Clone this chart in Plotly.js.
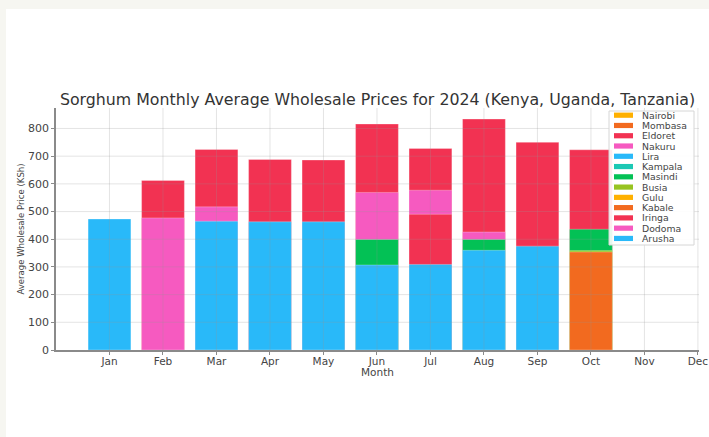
<!DOCTYPE html>
<html>
<head>
<meta charset="utf-8">
<script src="https://cdn.plot.ly/plotly-3.0.1.min.js"></script>
<style>
  html, body { margin: 0; padding: 0; background: #f6f6f1; width: 709px; height: 437px; overflow: hidden; }
  #chart { position: absolute; left: 6px; top: 9px; width: 703px; height: 428px; background: #ffffff; }
</style>
</head>
<body>
<div id="chart"></div>
<script>
// ---- data ----
const months = ['Jan','Feb','Mar','Apr','May','Jun','Jul','Aug','Sep','Oct','Nov','Dec'];
const markets = ['Nairobi','Mombasa','Eldoret','Nakuru','Lira','Kampala','Masindi','Busia','Gulu','Kabale','Iringa','Dodoma','Arusha'];
const marketColors = ['#FFB000','#F26A1F','#F23252','#F65AC0','#29B9F9','#1CC8B4','#03C155','#97C320','#FFB000','#F26A1F','#F23252','#F65AC0','#29B9F9'];

const nairobi = [null,null,null,null,null,null,null,null,null,null,null,null];
const mombasa = [null,null,null,null,null,null,null,null,null,null,null,null];
const eldoret = [null,612,724,688,686,816,728,834,750,723,null,null];
const nakuru  = [null,477,517,null,null,569,577,426,null,null,null,null];
const lira    = [null,null,null,null,null,null,null,null,null,null,null,null];
const kampala = [null,null,null,null,null,null,null,null,null,null,null,null];
const masindi = [null,null,null,null,null,399,null,399,null,436,null,null];
const busia   = [null,null,null,null,null,null,null,null,null,359,null,null];
const gulu    = [null,null,null,null,null,null,null,null,null,null,null,null];
const kabale  = [null,null,null,null,null,null,null,null,null,354,null,null];
const iringa  = [null,null,null,null,null,null,490,null,null,null,null,null];
const dodoma  = [null,null,null,null,null,null,null,null,null,null,null,null];
const arusha  = [473,null,465,463,463,307,309,360,375,null,null,null];
const seriesValues = [nairobi,mombasa,eldoret,nakuru,lira,kampala,masindi,busia,gulu,kabale,iringa,dodoma,arusha];
const yTicks = [0,100,200,300,400,500,600,700,800];

const titleText = 'Sorghum Monthly Average Wholesale Prices for 2024 (Kenya, Uganda, Tanzania)';
const xTitle = 'Month';
const yTitle = 'Average Wholesale Price (KSh)';

// ---- geometry helpers (layout only) ----
const W = 703, H = 428;
const M = {l: 50, r: 10, t: 99, b: 87};
const PW = W - M.l - M.r, PH = H - M.t - M.b;
const offX = 6, offY = 9;
function px(xAbs) { return (xAbs - offX - M.l) / PW; }
function py(yAbs) { return 1 - (yAbs - offY - M.t) / PH; }

const traces = markets.map((name, i) => ({
  type: 'bar',
  name: name,
  x: months,
  y: seriesValues[i],
  marker: {color: marketColors[i], line: {color: 'rgba(255,255,255,0.35)', width: 0.8}},
  showlegend: false,
  hoverinfo: 'name+y'
}));

const shapes = [];
const annotations = [];
const gridColor = 'rgba(150,150,150,0.25)';
months.forEach((m, i) => {
  shapes.push({type: 'line', xref: 'x', yref: 'paper', x0: i, x1: i, y0: 0, y1: 1,
    layer: 'above', line: {color: gridColor, width: 1}});
});
yTicks.forEach(v => {
  if (v === 0) return;
  shapes.push({type: 'line', xref: 'paper', yref: 'y', x0: 0, x1: 1, y0: v, y1: v,
    layer: 'above', line: {color: gridColor, width: 1}});
});

// x-axis title placed close under the tick labels, as in the reference
annotations.push({xref: 'paper', yref: 'paper', x: 0.5, y: py(372), xanchor: 'center', yanchor: 'middle',
  showarrow: false, text: xTitle, font: {family: 'DejaVu Sans, sans-serif', size: 10.5, color: '#444'}});

// custom legend (matplotlib-style compact legend)
const lgLeft = 609, lgRight = 694, lgTop = 111, lgBottom = 245;
shapes.push({type: 'rect', xref: 'paper', yref: 'paper',
  x0: px(lgLeft), x1: px(lgRight), y0: py(lgBottom), y1: py(lgTop),
  layer: 'above', fillcolor: 'rgba(255,255,255,0.9)', line: {color: '#d6d6d6', width: 1}});
const rowStart = 115.2, rowStep = 10.27;
markets.forEach((name, i) => {
  const yc = rowStart + i * rowStep;
  shapes.push({type: 'rect', xref: 'paper', yref: 'paper',
    x0: px(614), x1: px(633), y0: py(yc + 2.6), y1: py(yc - 2.6),
    layer: 'above', fillcolor: marketColors[i], line: {width: 0}});
  annotations.push({xref: 'paper', yref: 'paper', x: px(640), y: py(yc),
    xanchor: 'left', yanchor: 'middle', showarrow: false, text: name,
    font: {family: 'DejaVu Sans, sans-serif', size: 9.3, color: '#444'}});
});

const layout = {
  width: W, height: H,
  margin: M,
  paper_bgcolor: '#ffffff',
  plot_bgcolor: '#ffffff',
  barmode: 'overlay',
  bargap: 0.2,
  showlegend: false,
  title: {
    text: titleText,
    x: 0.5, xref: 'paper', xanchor: 'center',
    y: 1 - 90 / H, yref: 'container', yanchor: 'middle',
    font: {family: 'DejaVu Sans, sans-serif', size: 15.8, color: '#333'}
  },
  xaxis: {
    type: 'category',
    categoryorder: 'array', categoryarray: months,
    range: [-1, 11.02],
    showgrid: false, zeroline: false,
    showline: true, linecolor: '#8a8a8a', linewidth: 1.5,
    ticks: 'outside', ticklen: 3, tickcolor: '#8a8a8a',
    ticklabelstandoff: -2,
    tickfont: {family: 'DejaVu Sans, sans-serif', size: 10.5, color: '#444'}
  },
  yaxis: {
    range: [0, 874],
    tickvals: yTicks,
    showgrid: false, zeroline: false,
    showline: true, linecolor: '#8a8a8a', linewidth: 1.5,
    ticks: 'outside', ticklen: 3, tickcolor: '#8a8a8a',
    tickfont: {family: 'DejaVu Sans, sans-serif', size: 11, color: '#444'},
    title: {text: yTitle, standoff: 2, font: {family: 'Liberation Sans Narrow, DejaVu Sans Condensed, sans-serif', size: 9.5, color: '#444'}}
  },
  shapes: shapes,
  annotations: annotations
};

Plotly.newPlot('chart', traces, layout, {displayModeBar: false, responsive: false});
</script>
</body>
</html>
